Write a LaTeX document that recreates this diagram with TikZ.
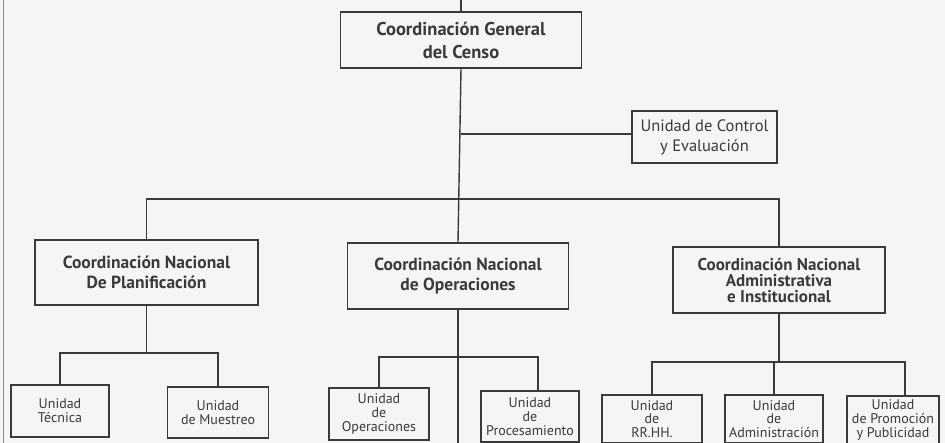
\documentclass[tikz,border=0pt]{standalone}
\usepackage{fontspec}
\setmainfont{PT Sans}
\definecolor{ink}{HTML}{3A3A3A}
\definecolor{paper}{HTML}{F5F5F3}
\definecolor{edge}{HTML}{8A8A8A}
\tikzset{
  box/.style={draw=ink, line width=1.4pt, rectangle, inner sep=1pt, align=center, text=ink},
  topbox/.style={box, font=\fontsize{18.5}{23}\selectfont\bfseries},
  midbox/.style={box, font=\fontsize{17.5}{20.5}\selectfont\bfseries},
  admbox/.style={box, font=\fontsize{17}{16}\selectfont\bfseries},
  ctlbox/.style={box, font=\fontsize{16.5}{20}\selectfont},
  unitbox/.style={box, font=\fontsize{14}{13.8}\selectfont},
  link/.style={draw=ink, line width=1.4pt}
}
\begin{document}
\begin{tikzpicture}[x=1pt, y=-1pt]
\fill[paper] (0,0) rectangle (945,443);
\useasboundingbox (0,0) rectangle (945,443);
\draw[edge, line width=1pt] (3,0) -- (3,443);

\node[topbox, minimum width=241pt, minimum height=56pt] (top) at (461,40) {Coordinación General\\del Censo};
\node[ctlbox, minimum width=145pt, minimum height=52pt] (ctl) at (704.5,137) {Unidad de Control\\y Evaluación};

\node[midbox, minimum width=223pt, minimum height=65pt] (plan) at (146.5,272.5) {Coordinación Nacional\\De Planificación};
\node[midbox, minimum width=221pt, minimum height=66pt] (oper) at (458,276) {Coordinación Nacional\\de Operaciones};
\node[admbox, minimum width=212pt, minimum height=66pt] (adm) at (779,280) {Coordinación Nacional\\Administrativa\\e Institucional};

\node[unitbox, minimum width=98pt, minimum height=52pt] (tec) at (60,411) {Unidad\\Técnica};
\node[unitbox, minimum width=101pt, minimum height=51pt] (mue) at (218,412.5) {Unidad\\de Muestreo};
\node[unitbox, minimum width=100pt, minimum height=52pt] (uop) at (379,414) {Unidad\\de\\Operaciones};
\node[unitbox, minimum width=98pt, minimum height=51pt] (pro) at (530,416.5) {Unidad\\de\\Procesamiento};
\node[unitbox, minimum width=100pt, minimum height=48pt] (rrhh) at (652,419) {Unidad\\de\\RR.HH.};
\node[unitbox, minimum width=98pt, minimum height=48pt] (uadm) at (774,419) {Unidad\\de\\Administración};
\node[unitbox, minimum width=92pt, minimum height=48pt] (pub) at (893,420) {Unidad\\de Promoción\\y Publicidad};

\coordinate (topin) at (461,0);
\coordinate (bar) at (0,199);
\coordinate (ctlj) at (0,134);
\coordinate (planbar) at (0,353);
\coordinate (operbar) at (0,357);
\coordinate (admbar) at (0,362);
\coordinate (bottom) at (0,443);

% top
\draw[link] (topin) -- (top.north);
\draw[link] (top.south) -- (oper.north);
\draw[link] (top.south |- ctlj) -- (ctl.west |- ctlj);
% level bar
\draw[link] (plan.north) -- (plan.north |- bar) -- (adm.north |- bar) -- (adm.north);
% planificacion
\draw[link] (plan.south) -- (plan.south |- planbar);
\draw[link] (tec.north) -- (tec.north |- planbar) -- (mue.north |- planbar) -- (mue.north);
% operaciones
\draw[link] (oper.south) -- (oper.south |- bottom);
\draw[link] (uop.north) -- (uop.north |- operbar) -- ([xshift=8pt]pro.north |- operbar) -- ([xshift=8pt]pro.north);
% administrativa
\draw[link] (adm.south) -- (adm.south |- admbar);
\draw[link] (rrhh.north) -- (rrhh.north |- admbar) -- ([xshift=12pt]pub.north |- admbar) -- ([xshift=12pt]pub.north);
\draw[link] (uadm.north) -- (uadm.north |- admbar);
\end{tikzpicture}
\end{document}
